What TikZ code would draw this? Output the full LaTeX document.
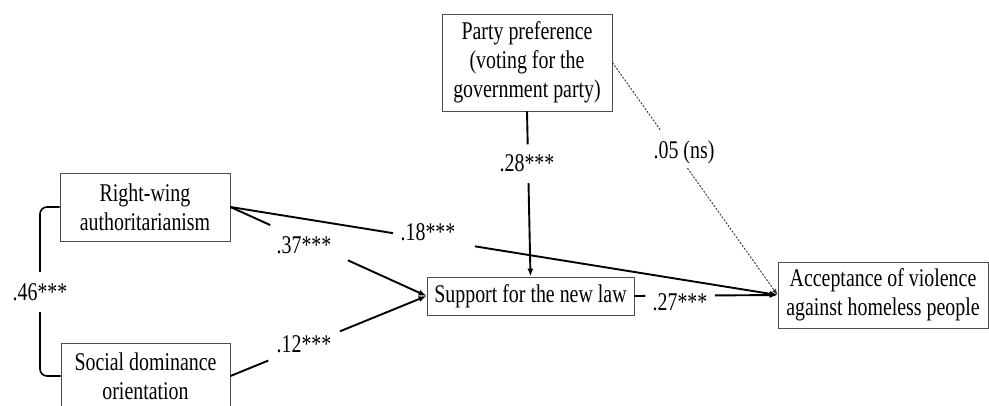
\documentclass[tikz,border=0pt]{standalone}
\usepackage{fontspec}
\setmainfont{Liberation Serif}[FakeStretch=0.78]
\usetikzlibrary{arrows.meta,calc}

\begin{document}
\begin{tikzpicture}[x=1pt,y=-1pt,
  txt/.style={font=\fontsize{25.5}{29}\selectfont},
  box/.style={txt, draw=black!70, line width=0.9pt, align=center, inner sep=0pt},
  lbl/.style={txt, inner sep=0pt},
  link/.style={line width=1.9pt, black},
  tip/.style={-{Latex[length=8pt,width=6pt]}},
  nsline/.style={line width=0.9pt, black!80, dash pattern=on 2pt off 1.5pt}
]
\useasboundingbox (0,0) rectangle (989,405);

% variables
\node[box, minimum width=170pt, minimum height=68pt] (rwa) at (145,207) {Right-wing\\authoritarianism};
\node[box, minimum width=169pt, minimum height=66pt] (sdo) at (145.5,376) {Social dominance\\orientation};
\node[box, minimum width=170pt, minimum height=97pt] (party) at (527,62.5) {Party preference\\(voting for the\\government party)};
\node[box, minimum width=207pt, minimum height=38pt] (sup) at (530.5,296) {Support for the new law};
\node[box, minimum width=210pt, minimum height=66pt] (acc) at (883,295) {Acceptance of violence\\against homeless people};

% coefficients
\node[lbl, minimum height=40pt] (c46) at (40,292) {.46***};
\node[lbl] (c37) at (304,245) {.37***};
\node[lbl] (c12) at (304,344) {.12***};
\node[lbl] (c18) at (428,232) {.18***};
\node[lbl] (c28) at (527,163) {.28***};
\node[lbl] (c27) at (680,302) {.27***};
\node[lbl] (c05) at (684,152) {.05 (ns)};

% correlation bracket
\draw[link, line width=1.6pt, rounded corners=7pt] (rwa.west) -- (40,207) -- (c46.north);
\draw[link, line width=1.6pt, rounded corners=7pt] (c46.south) -- (40,376) -- (sdo.west);

% RWA -> support
\draw[link] (rwa.east) -- ($(rwa.east)!0.203!(sup.west)$);
\draw[link, tip] ($(rwa.east)!0.599!(sup.west)$) -- (sup.west);
% SDO -> support
\draw[link] (sdo.east) -- ($(sdo.east)!0.193!(sup.west)$);
\draw[link, tip] ($(sdo.east)!0.558!(sup.west)$) -- (sup.west);
% RWA -> acceptance
\draw[link] (rwa.east) -- ($(rwa.east)!0.297!(acc.west)$);
\draw[link, tip] ($(rwa.east)!0.447!(acc.west)$) -- (acc.west);
% party -> support
\draw[link] (party.south) -- ($(party.south)!0.199!(sup.north)$);
\draw[link, tip] ($(party.south)!0.434!(sup.north)$) -- (sup.north);
% support -> acceptance
\draw[link] (sup.east) -- ($(sup.east)!0.076!(acc.west)$);
\draw[link, tip] ($(sup.east)!0.5625!(acc.west)$) -- (acc.west);
% party -> acceptance (n.s.)
\draw[nsline] (party.east) -- ($(party.east)!0.29!(acc.west)$);
\draw[nsline, -{Latex[length=6pt,width=4.5pt]}] ($(party.east)!0.454!(acc.west)$) -- (acc.west);
\end{tikzpicture}
\end{document}
